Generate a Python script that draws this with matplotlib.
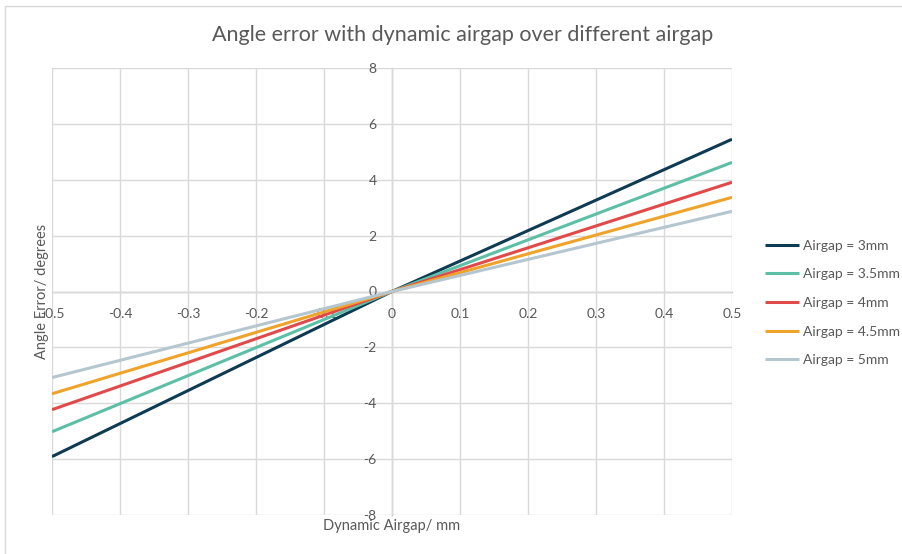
import numpy as np
import matplotlib
matplotlib.use("Agg")
import matplotlib.pyplot as plt
from matplotlib.patches import Rectangle

plt.rcParams['font.family'] = ['Lato', 'DejaVu Sans']

# data (end points of each line)
dyn_airgap = [-0.5, 0.0, 0.5]
err_3mm = [-5.91, 0.0, 5.45]
err_3_5mm = [-5.02, 0.0, 4.62]
err_4mm = [-4.23, 0.0, 3.91]
err_4_5mm = [-3.66, 0.0, 3.37]
err_5mm = [-3.08, 0.0, 2.87]

labels = ["Airgap = 3mm", "Airgap = 3.5mm", "Airgap = 4mm", "Airgap = 4.5mm", "Airgap = 5mm"]
colors = ["#0E3B53", "#5DBFA6", "#E04A4A", "#F0A32A", "#B4C6D0"]
series = [err_3mm, err_3_5mm, err_4mm, err_4_5mm, err_5mm]

x_ticks = np.round(np.arange(-0.5, 0.51, 0.1), 1)
y_ticks = np.arange(-8, 9, 2)

text_col = "#595959"
grid_col = "#D9D9D9"

fig = plt.figure(figsize=(9.03, 5.54), dpi=100)
fig.patches.append(Rectangle((5 / 903, -0.01), 1.0, 1 - 6 / 554 + 0.01, transform=fig.transFigure,
                             fill=False, edgecolor="#D9D9D9", linewidth=1))
ax = fig.add_axes([52 / 903, 39 / 554, 680 / 903, 447 / 554])

for s, c, lab in zip(series, colors, labels):
    ax.plot(dyn_airgap, s, color=c, linewidth=2.2, label=lab, solid_capstyle="butt")

ax.set_xlim(-0.5, 0.5)
ax.set_ylim(-8, 8)
ax.set_xticks(x_ticks)
ax.set_yticks(y_ticks)
ax.set_xticklabels(["0" if v == 0 else f"{v:g}" for v in x_ticks])
ax.set_yticklabels([f"{v:g}" for v in y_ticks])
ax.grid(color=grid_col, linewidth=1)
ax.set_axisbelow(True)

ax.spines['left'].set_position('zero')
ax.spines['bottom'].set_position('zero')
ax.spines['right'].set_visible(False)
ax.spines['top'].set_visible(False)
for sp in ['left', 'bottom']:
    ax.spines[sp].set_color("#BFBFBF")
    ax.spines[sp].set_linewidth(1)
    ax.spines[sp].set_zorder(0.5)

ax.tick_params(axis='x', length=0, pad=12, labelsize=10, labelcolor=text_col)
ax.tick_params(axis='y', length=0, pad=11, labelsize=10, labelcolor=text_col)

fig.text(463 / 903, 1 - 35 / 554, "Angle error with dynamic airgap over different airgap",
         ha="center", va="center", fontsize=15.5, color=text_col)
fig.text(392 / 903, 1 - 526 / 554, "Dynamic Airgap/ mm", ha="center", va="center",
         fontsize=10.5, color=text_col)
fig.text(42 / 903, 1 - 291 / 554, "Angle Error/ degrees", ha="center", va="center",
         rotation=90, fontsize=10.5, color=text_col)

leg = ax.legend(loc="center left", bbox_to_anchor=(752 / 903, 1 - 303 / 554),
                bbox_transform=fig.transFigure, frameon=False, fontsize=10,
                handlelength=2.5, handletextpad=0.3, labelspacing=1.2)
for t in leg.get_texts():
    t.set_color(text_col)

fig.savefig("out.png", dpi=100)
